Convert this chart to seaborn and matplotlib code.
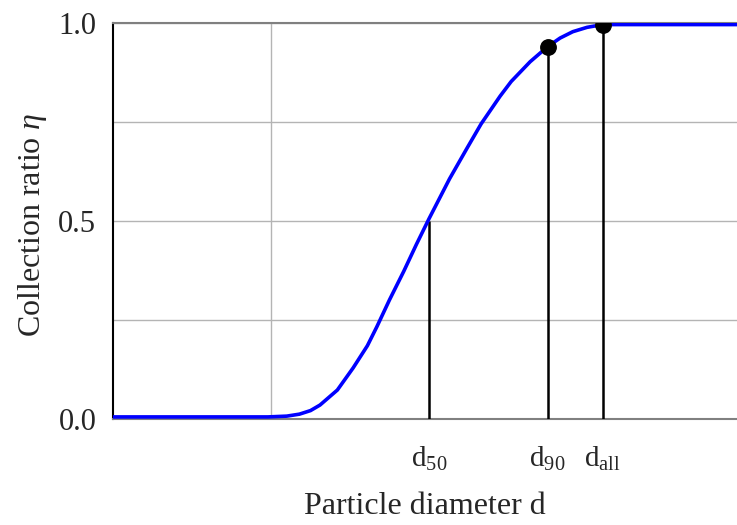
import matplotlib
matplotlib.use("Agg")
import matplotlib.pyplot as plt
import seaborn as sns

# collection curve
diameter = [0.0, 0.98, 1.10, 1.18, 1.25, 1.31, 1.42, 1.52, 1.61, 1.67, 1.75, 1.84, 1.92, 2.00,
            2.13, 2.24, 2.33, 2.45, 2.52, 2.64, 2.75, 2.83, 2.91, 3.00, 3.10, 3.95]
eta = [0.004, 0.004, 0.006, 0.011, 0.020, 0.034, 0.072, 0.128, 0.184, 0.232, 0.300, 0.372, 0.440, 0.505,
       0.606, 0.683, 0.745, 0.815, 0.852, 0.902, 0.940, 0.962, 0.978, 0.989, 0.996, 0.996]

# marked diameters
mark_d = [2.00, 2.75, 3.10]
mark_eta = [0.50, 0.94, 0.996]
mark_labels = [r"d$_{\mathrm{50}}$", r"d$_{\mathrm{90}}$", r"d$_{\mathrm{all}}$"]
dot_d = [2.75, 3.10]
dot_eta = [0.94, 0.996]

sns.set_style("white")
plt.rcParams["font.family"] = ["Liberation Serif", "DejaVu Serif"]
plt.rcParams["mathtext.fontset"] = "custom"
plt.rcParams["mathtext.rm"] = "Liberation Serif"
plt.rcParams["mathtext.it"] = "Liberation Serif:italic"

fig = plt.figure(figsize=(7.37, 5.25), dpi=100)
ax = fig.add_axes([113 / 737, 106.5 / 525, 624 / 737, 395.5 / 525])

ax.vlines(mark_d, 0, mark_eta, color="black", lw=1.8, zorder=3)
sns.lineplot(x=diameter, y=eta, ax=ax, color="#0000ff", lw=2.6, zorder=4)
sns.scatterplot(x=dot_d, y=dot_eta, ax=ax, color="black", s=125, edgecolor="black", zorder=5)

ax.set_xlim(0, 624 / 158)
ax.set_ylim(0, 1.0)

ax.set_xticks(mark_d)
ax.set_xticklabels(mark_labels, fontsize=21)
ax.set_xticks([1, 2], minor=True)
ax.set_yticks([0, 0.5, 1.0])
ax.set_yticklabels(["0.0", "0.5", "1.0"], fontsize=22)
ax.set_yticks([0.25, 0.75], minor=True)
ax.tick_params(axis="x", which="both", length=0, pad=19)
ax.tick_params(axis="y", which="both", length=0, pad=12)

ax.grid(False)
ax.grid(True, axis="x", which="minor", color="#b4b4b4", lw=1.0)
ax.grid(True, axis="y", which="both", color="#b4b4b4", lw=1.0)

for side in ["top", "bottom"]:
    ax.spines[side].set_color("#808080")
    ax.spines[side].set_linewidth(1.5)
ax.spines["left"].set_color("black")
ax.spines["left"].set_linewidth(1.5)
ax.spines["right"].set_visible(False)

ax.set_xlabel("Particle diameter d", fontsize=23)
ax.xaxis.set_label_coords(0.5, -0.185)
ax.set_ylabel(r"Collection ratio $\eta$", fontsize=23)
ax.yaxis.set_label_coords(-0.103, 0.49)

fig.savefig("out.png", dpi=100)
